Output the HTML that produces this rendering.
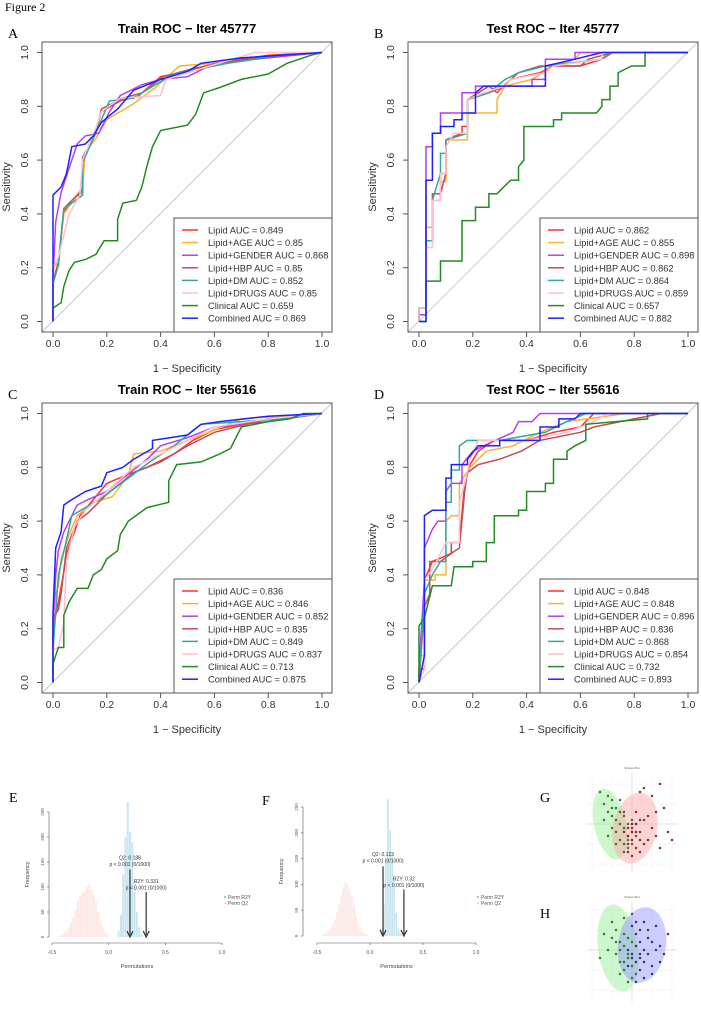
<!DOCTYPE html>
<html><head><meta charset="utf-8">
<style>
html,body{margin:0;padding:0;background:#fff;}
svg{display:block;font-family:"Liberation Sans",sans-serif;}
.serif{font-family:"Liberation Serif",serif;}
</style></head>
<body>
<svg id="fig" width="701" height="1015" viewBox="0 0 701 1015" xmlns="http://www.w3.org/2000/svg">
<text class="serif" x="5" y="11" font-size="12">Figure 2</text>
</svg>
<script>
// ===== ROC data (fpr, tpr pairs) =====
const seriesNames = ["Lipid","Lipid+AGE","Lipid+GENDER","Lipid+HBP","Lipid+DM","Lipid+DRUGS","Clinical","Combined"];
const seriesColors = ["#ff3030","#ffb030","#b040f0","#c05050","#30a8a8","#ffc0cb","#228b22","#2020ff"];
const aucA = [0.849,0.85,0.868,0.85,0.852,0.85,0.659,0.869];
const aucB = [0.862,0.855,0.898,0.862,0.864,0.859,0.657,0.882];
const aucC = [0.836,0.846,0.852,0.835,0.849,0.837,0.713,0.875];
const aucD = [0.848,0.848,0.896,0.836,0.868,0.854,0.732,0.893];

const rocA_lipid=[[0,0],[0,0.15],[0.02,0.22],[0.04,0.41],[0.08,0.46],[0.11,0.48],[0.11,0.6],[0.15,0.68],[0.18,0.78],[0.25,0.82],[0.32,0.84],[0.4,0.91],[0.5,0.93],[0.6,0.96],[0.8,0.99],[1,1]];
const rocA_age=[[0,0],[0,0.2],[0.02,0.22],[0.04,0.4],[0.09,0.47],[0.11,0.5],[0.12,0.63],[0.16,0.68],[0.2,0.75],[0.3,0.81],[0.38,0.87],[0.47,0.95],[0.6,0.96],[0.85,0.99],[1,1]];
const rocA_gender=[[0,0],[0,0.16],[0.01,0.37],[0.03,0.48],[0.07,0.6],[0.09,0.66],[0.12,0.69],[0.17,0.7],[0.21,0.78],[0.25,0.84],[0.33,0.88],[0.4,0.9],[0.5,0.91],[0.6,0.96],[0.8,0.98],[1,1]];
const rocA_hbp=[[0,0],[0,0.15],[0.02,0.21],[0.04,0.42],[0.08,0.46],[0.11,0.49],[0.11,0.61],[0.16,0.7],[0.18,0.79],[0.26,0.83],[0.33,0.85],[0.41,0.91],[0.52,0.94],[0.62,0.96],[0.82,0.99],[1,1]];
const rocA_dm=[[0,0],[0,0.14],[0.02,0.21],[0.03,0.32],[0.04,0.42],[0.07,0.44],[0.11,0.47],[0.11,0.59],[0.15,0.68],[0.21,0.82],[0.3,0.83],[0.38,0.88],[0.45,0.92],[0.55,0.94],[0.65,0.96],[0.85,0.99],[1,1]];
const rocA_drugs=[[0,0],[0,0.2],[0.02,0.24],[0.04,0.32],[0.06,0.4],[0.1,0.47],[0.11,0.6],[0.16,0.72],[0.18,0.78],[0.25,0.83],[0.4,0.84],[0.42,0.9],[0.55,0.94],[0.65,0.97],[0.75,1],[1,1]];
const rocA_clin=[[0,0],[0,0.05],[0.03,0.07],[0.04,0.13],[0.06,0.19],[0.08,0.22],[0.12,0.23],[0.16,0.25],[0.19,0.3],[0.24,0.3],[0.24,0.38],[0.26,0.44],[0.31,0.45],[0.33,0.5],[0.35,0.58],[0.37,0.65],[0.4,0.71],[0.5,0.73],[0.53,0.77],[0.56,0.85],[0.62,0.87],[0.7,0.9],[0.8,0.92],[0.87,0.96],[0.96,0.99],[1,1]];
const rocA_comb=[[0,0],[0,0.47],[0.03,0.5],[0.05,0.55],[0.07,0.65],[0.12,0.66],[0.15,0.69],[0.18,0.74],[0.24,0.79],[0.3,0.86],[0.4,0.9],[0.5,0.93],[0.55,0.96],[0.7,0.98],[1,1]];

const rocB_lipid=[[0,0],[0,0.05],[0.026,0.05],[0.026,0.3],[0.05,0.3],[0.05,0.45],[0.08,0.45],[0.08,0.55],[0.1,0.55],[0.1,0.675],[0.16,0.7],[0.16,0.725],[0.18,0.725],[0.18,0.825],[0.26,0.85],[0.32,0.875],[0.34,0.9],[0.45,0.925],[0.5,0.95],[0.6,0.95],[0.68,0.975],[0.72,1],[1,1]];
const rocB_age=[[0,0],[0,0.05],[0.026,0.05],[0.026,0.35],[0.05,0.35],[0.05,0.45],[0.08,0.45],[0.08,0.52],[0.1,0.52],[0.1,0.675],[0.18,0.675],[0.18,0.775],[0.29,0.775],[0.29,0.825],[0.32,0.875],[0.42,0.9],[0.5,0.95],[0.58,0.975],[0.6,1],[1,1]];
const rocB_gender=[[0,0],[0,0.025],[0.026,0.025],[0.026,0.65],[0.05,0.65],[0.05,0.7],[0.08,0.7],[0.08,0.775],[0.16,0.775],[0.16,0.85],[0.21,0.85],[0.21,0.875],[0.42,0.875],[0.42,0.9],[0.47,0.9],[0.47,0.975],[0.58,0.975],[0.58,1],[1,1]];
const rocB_hbp=[[0,0],[0,0.05],[0.026,0.05],[0.026,0.3],[0.05,0.3],[0.05,0.475],[0.08,0.475],[0.1,0.55],[0.1,0.675],[0.18,0.7],[0.18,0.825],[0.26,0.875],[0.29,0.85],[0.34,0.9],[0.37,0.925],[0.45,0.95],[0.6,0.95],[0.63,0.975],[0.72,1],[1,1]];
const rocB_dm=[[0,0],[0,0.05],[0.026,0.05],[0.026,0.3],[0.05,0.3],[0.05,0.45],[0.08,0.55],[0.08,0.625],[0.1,0.625],[0.1,0.675],[0.18,0.7],[0.18,0.825],[0.26,0.85],[0.32,0.9],[0.37,0.925],[0.47,0.95],[0.68,0.975],[0.71,1],[1,1]];
const rocB_drugs=[[0,0],[0,0.05],[0.026,0.05],[0.026,0.275],[0.05,0.275],[0.05,0.45],[0.08,0.45],[0.08,0.55],[0.1,0.55],[0.1,0.65],[0.13,0.7],[0.18,0.7],[0.18,0.825],[0.24,0.85],[0.32,0.875],[0.34,0.9],[0.47,0.925],[0.5,0.95],[0.68,0.975],[0.68,1],[1,1]];
const rocB_clin=[[0,0],[0.026,0],[0.026,0.15],[0.08,0.15],[0.08,0.225],[0.16,0.225],[0.16,0.375],[0.21,0.375],[0.21,0.425],[0.26,0.425],[0.26,0.475],[0.29,0.475],[0.34,0.525],[0.37,0.525],[0.37,0.575],[0.39,0.6],[0.39,0.725],[0.5,0.725],[0.5,0.75],[0.53,0.75],[0.53,0.775],[0.66,0.775],[0.68,0.8],[0.68,0.825],[0.71,0.825],[0.71,0.875],[0.74,0.875],[0.74,0.925],[0.79,0.95],[0.84,0.95],[0.84,1],[1,1]];
const rocB_comb=[[0,0],[0.026,0],[0.026,0.525],[0.05,0.525],[0.05,0.7],[0.08,0.7],[0.08,0.725],[0.13,0.725],[0.13,0.75],[0.16,0.75],[0.16,0.775],[0.21,0.775],[0.21,0.85],[0.24,0.875],[0.42,0.875],[0.47,0.875],[0.47,0.95],[0.58,0.975],[0.68,1],[1,1]];

const rocC_lipid=[[0,0],[0,0.2],[0.02,0.3],[0.04,0.41],[0.05,0.48],[0.08,0.56],[0.1,0.62],[0.15,0.68],[0.2,0.74],[0.27,0.77],[0.35,0.8],[0.45,0.85],[0.52,0.9],[0.6,0.94],[0.8,0.98],[1,1]];
const rocC_age=[[0,0],[0,0.25],[0.01,0.33],[0.02,0.36],[0.03,0.46],[0.06,0.55],[0.09,0.62],[0.15,0.67],[0.22,0.69],[0.28,0.77],[0.3,0.85],[0.4,0.86],[0.5,0.9],[0.58,0.93],[0.7,0.98],[1,1]];
const rocC_gender=[[0,0],[0,0.2],[0.01,0.4],[0.02,0.49],[0.04,0.56],[0.07,0.62],[0.09,0.66],[0.13,0.68],[0.2,0.71],[0.26,0.76],[0.35,0.83],[0.4,0.88],[0.5,0.91],[0.6,0.95],[0.8,0.97],[1,1]];
const rocC_hbp=[[0,0],[0,0.24],[0.02,0.27],[0.03,0.33],[0.05,0.5],[0.09,0.6],[0.13,0.63],[0.2,0.7],[0.3,0.78],[0.4,0.82],[0.5,0.88],[0.6,0.93],[0.8,0.98],[1,1]];
const rocC_dm=[[0,0],[0,0.12],[0.02,0.4],[0.05,0.53],[0.07,0.62],[0.12,0.65],[0.2,0.7],[0.28,0.76],[0.36,0.82],[0.45,0.88],[0.5,0.92],[0.55,0.96],[0.7,0.97],[0.85,0.98],[1,1]];
const rocC_drugs=[[0,0],[0,0.12],[0.02,0.13],[0.04,0.22],[0.05,0.45],[0.08,0.58],[0.12,0.64],[0.2,0.71],[0.3,0.8],[0.4,0.85],[0.5,0.9],[0.6,0.95],[0.8,0.98],[1,1]];
const rocC_clin=[[0,0],[0,0.07],[0.02,0.13],[0.04,0.13],[0.04,0.25],[0.06,0.3],[0.09,0.35],[0.13,0.35],[0.15,0.4],[0.18,0.42],[0.2,0.46],[0.24,0.49],[0.25,0.55],[0.28,0.6],[0.35,0.65],[0.43,0.67],[0.43,0.75],[0.46,0.81],[0.55,0.82],[0.62,0.85],[0.66,0.87],[0.7,0.95],[0.8,0.97],[0.88,0.98],[0.93,1],[1,1]];
const rocC_comb=[[0,0],[0,0.26],[0.01,0.5],[0.03,0.56],[0.04,0.66],[0.07,0.68],[0.12,0.71],[0.18,0.73],[0.2,0.78],[0.26,0.8],[0.3,0.83],[0.37,0.87],[0.37,0.9],[0.5,0.92],[0.55,0.96],[0.62,0.97],[0.8,0.99],[1,1]];

const rocD_lipid=[[0,0],[0,0.05],[0.02,0.05],[0.02,0.38],[0.05,0.45],[0.12,0.48],[0.12,0.52],[0.15,0.52],[0.17,0.74],[0.19,0.81],[0.22,0.86],[0.28,0.9],[0.4,0.9],[0.5,0.93],[0.6,0.95],[0.65,1],[1,1]];
const rocD_age=[[0,0],[0,0.1],[0.02,0.1],[0.02,0.38],[0.06,0.38],[0.06,0.4],[0.1,0.4],[0.1,0.6],[0.12,0.62],[0.15,0.62],[0.15,0.74],[0.19,0.8],[0.25,0.86],[0.35,0.88],[0.45,0.93],[0.55,0.97],[0.77,1],[1,1]];
const rocD_gender=[[0,0],[0,0.05],[0.02,0.38],[0.02,0.5],[0.05,0.57],[0.07,0.6],[0.1,0.6],[0.1,0.71],[0.12,0.74],[0.16,0.74],[0.16,0.81],[0.2,0.86],[0.24,0.88],[0.35,0.93],[0.37,0.97],[0.42,0.97],[0.45,1],[1,1]];
const rocD_hbp=[[0,0],[0.02,0.28],[0.04,0.33],[0.04,0.45],[0.08,0.45],[0.12,0.48],[0.15,0.5],[0.17,0.71],[0.18,0.78],[0.22,0.81],[0.3,0.83],[0.38,0.86],[0.45,0.9],[0.6,0.93],[0.65,0.95],[0.8,0.98],[0.9,1],[1,1]];
const rocD_dm=[[0,0],[0.02,0.33],[0.05,0.4],[0.08,0.45],[0.1,0.45],[0.1,0.67],[0.12,0.67],[0.12,0.79],[0.15,0.79],[0.15,0.88],[0.18,0.9],[0.3,0.9],[0.47,0.93],[0.55,0.97],[0.62,1],[1,1]];
const rocD_drugs=[[0,0],[0.02,0.05],[0.02,0.38],[0.05,0.42],[0.08,0.48],[0.1,0.52],[0.15,0.52],[0.15,0.67],[0.17,0.74],[0.19,0.83],[0.22,0.9],[0.4,0.9],[0.55,0.93],[0.65,0.97],[0.7,1],[1,1]];
const rocD_clin=[[0,0],[0,0.21],[0.02,0.24],[0.05,0.36],[0.12,0.36],[0.13,0.43],[0.2,0.43],[0.2,0.45],[0.25,0.45],[0.25,0.52],[0.28,0.52],[0.28,0.62],[0.37,0.62],[0.37,0.64],[0.4,0.64],[0.4,0.71],[0.47,0.71],[0.47,0.74],[0.5,0.74],[0.5,0.83],[0.55,0.83],[0.55,0.86],[0.58,0.88],[0.62,0.9],[0.62,0.96],[0.85,0.98],[0.85,1],[1,1]];
const rocD_comb=[[0,0],[0.02,0.1],[0.02,0.62],[0.05,0.64],[0.1,0.64],[0.1,0.76],[0.12,0.76],[0.12,0.81],[0.18,0.81],[0.18,0.83],[0.22,0.88],[0.3,0.88],[0.3,0.9],[0.45,0.9],[0.45,0.95],[0.52,0.95],[0.52,0.98],[0.58,0.98],[0.6,1],[1,1]];

const axisTicks = [0,0.2,0.4,0.6,0.8,1.0];
const axisTickLabels = ["0.0","0.2","0.4","0.6","0.8","1.0"];

// ===== Permutation histogram data =====
const binW = 0.02;
const eR2Start = 0.08;
const eR2Counts = [12,45,125,200,270,210,190,110,50,20,5];
const eQ2Start = -0.44;
const eQ2Counts = [2,4,8,12,18,28,40,55,72,82,88,92,100,105,95,85,70,50,35,20,10,4];
const fR2Start = 0.1;
const fR2Counts = [15,60,150,265,205,160,110,45,15,5];
const fQ2Start = -0.46;
const fQ2Counts = [2,3,6,10,15,22,32,45,60,80,95,105,100,90,78,60,40,25,15,8,4,2,1];
const eStats = {q2:0.188, r2y:0.331, q2Label:"Q2: 0.188", r2Label:"R2Y: 0.331"};
const fStats = {q2:0.123, r2y:0.32, q2Label:"Q2: 0.123", r2Label:"R2Y: 0.32"};
const histXTicks = [-0.5,0,0.5,1.0];
const histXLabels = ["-0.5","0.0","0.5","1.0"];
const histYTicks = [0,50,100,150,200,250];

// ===== Score plot data =====
const gGreen=[[-8,8],[-7,5],[-6,7],[-5,6],[-6,3],[-7,1],[-5,2],[-4,4],[-4,1],[-3,3],[-5,-1],[-4,-2],[-3,0],[-2,2],[-2,-1],[-3,-4],[-2,-5],[-1,0],[-1,-3],[0,1],[0,-2],[-1,-6],[1,-3],[-6,-3],[-3,6],[-2,-7],[0,-5],[1,0],[-4,-5],[-2,3],[-1,-4],[-5,4]];
const gRed=[[3,9],[5,7],[7,10],[2,8],[-1,-1],[0,-2],[1,0],[0,-4],[-1,-5],[2,-2],[1,-6],[3,1],[4,2],[5,-1],[6,3],[8,4],[9,-2],[10,-4],[4,-4],[2,-7],[0,-8],[-1,-3],[3,-5],[6,-3],[1,3],[-2,-2],[2,1],[0,0],[7,-6],[1,-2],[-1,-7],[2,-4],[0,-1]];
const hGreen=[[-8,-2],[-7,4],[-6,0],[-5,3],[-5,7],[-4,5],[-4,-1],[-3,2],[-3,-3],[-2,1],[-2,-5],[-1,3],[-1,-2],[0,-4],[-1,-8],[-3,-6],[-2,4],[-4,2],[0,9],[-2,8],[1,-6],[-3,0],[0,2],[-1,-1],[-2,-3],[0,-7]];
const hBlue=[[0,6],[1,7],[2,5],[3,7],[4,5],[5,2],[6,0],[7,1],[8,-1],[9,4],[7,-3],[5,-4],[4,-1],[3,0],[2,2],[1,-3],[0,-1],[2,-5],[3,-7],[1,-8],[0,-2],[-1,0],[2,-1],[4,3],[6,6],[1,1],[3,-3],[5,-6],[1,4],[-1,-4],[2,-2]];

const NS="http://www.w3.org/2000/svg";
const svg=document.getElementById('fig');
function mk(tag,attrs,parent,txt){const e=document.createElementNS(NS,tag);for(const k in attrs)e.setAttribute(k,attrs[k]);if(txt!==undefined)e.textContent=txt;(parent||svg).appendChild(e);return e;}

function rocPanel(ox,oy,title,letter,curves,aucs,name){
  const g=mk('g',{});
  
  
  const L=ox,T=oy,R=ox+290,B=oy+290;
  const sx=v=>ox+11+v*269, sy=v=>oy+279.5-v*269;
  const lt=mk('text',{x:ox-34,y:oy-4,'font-size':14,'class':'serif'},g,letter);
  
  
  const tt=mk('text',{x:(L+R)/2,y:oy-9,'font-size':13,'font-weight':'bold','text-anchor':'middle'},g,title);
  
  
  const dg=mk('line',{x1:L,y1:B,x2:R,y2:T,stroke:'#c8c8c8','stroke-width':1},g);
  
  
  curves.forEach((c,i)=>{
    const p=mk('polyline',{points:c.map(d=>sx(d[0]).toFixed(1)+','+sy(d[1]).toFixed(1)).join(' '),fill:'none',stroke:seriesColors[i],'stroke-width':1.5},g);
    
    
  });
  const bx=mk('rect',{x:L,y:T,width:290,height:290,fill:'none',stroke:'#555','stroke-width':1},g);
  
  
  axisTicks.forEach((t,i)=>{
    mk('line',{x1:sx(t),y1:B,x2:sx(t),y2:B+5,stroke:'#555'},g);
    const xl=mk('text',{x:sx(t),y:B+15,'font-size':10.5,'text-anchor':'middle',fill:'#333'},g,axisTickLabels[i]);
    
    
    mk('line',{x1:L,y1:sy(t),x2:L-5,y2:sy(t),stroke:'#555'},g);
    const yl=mk('text',{x:L-14,y:sy(t),'font-size':10.5,'text-anchor':'middle',fill:'#333',transform:`rotate(-90 ${L-14} ${sy(t)})`},g,axisTickLabels[i]);
    
    
  });
  const xt=mk('text',{x:(L+R)/2,y:B+40,'font-size':11,'text-anchor':'middle',fill:'#333'},g,'1 − Specificity');
  
  
  const yt=mk('text',{x:L-32,y:(T+B)/2,'font-size':11,'text-anchor':'middle',fill:'#333',transform:`rotate(-90 ${L-32} ${(T+B)/2})`},g,'Sensitivity');
  
  
  const lg=mk('g',{},g);
  
  
  mk('rect',{x:R-158,y:B-114,width:158,height:114,fill:'#fff',stroke:'#555'},lg);
  seriesNames.forEach((n,i)=>{
    const y=B-102+i*12.6;
    const le=mk('g',{},lg);
    
    
    mk('line',{x1:R-150,y1:y,x2:R-134,y2:y,stroke:seriesColors[i],'stroke-width':1.5},le);
    mk('text',{x:R-124,y:y+3.5,'font-size':9.3,fill:'#333'},le,n+' AUC = '+aucs[i]);
  });
}
rocPanel(42,42,'Train ROC − Iter 45777','A',[rocA_lipid,rocA_age,rocA_gender,rocA_hbp,rocA_dm,rocA_drugs,rocA_clin,rocA_comb],aucA,'train-roc-45777');
rocPanel(408,42,'Test ROC − Iter 45777','B',[rocB_lipid,rocB_age,rocB_gender,rocB_hbp,rocB_dm,rocB_drugs,rocB_clin,rocB_comb],aucB,'test-roc-45777');
rocPanel(42,403,'Train ROC − Iter 55616','C',[rocC_lipid,rocC_age,rocC_gender,rocC_hbp,rocC_dm,rocC_drugs,rocC_clin,rocC_comb],aucC,'train-roc-55616');
rocPanel(408,403,'Test ROC − Iter 55616','D',[rocD_lipid,rocD_age,rocD_gender,rocD_hbp,rocD_dm,rocD_drugs,rocD_clin,rocD_comb],aucD,'test-roc-55616');

function histPanel(o){
  const g=mk('g',{});
  
  
  const sx=v=>o.x0+(v+0.5)/1.5*(o.x1-o.x0);
  const sy=f=>o.y0-f/250*(o.y0-o.y250);
  const lt=mk('text',{x:o.lx,y:o.ly,'font-size':14,'class':'serif'},g,o.letter);
  
  
  o.q2c.forEach((c,i)=>{
    const b=mk('rect',{x:sx(o.q2s+i*binW),y:sy(c),width:sx(binW)-sx(0)-0.3,height:sy(0)-sy(c),fill:'#fde8e6'},g);
    
    
  });
  o.r2c.forEach((c,i)=>{
    const b=mk('rect',{x:sx(o.r2s+i*binW),y:sy(c),width:sx(binW)-sx(0)-0.3,height:sy(0)-sy(c),fill:'#c8e6f0'},g);
    
    
  });
  const st=o.stats;
  [[st.q2,135,st.q2Label,155],[st.r2y,90,st.r2Label,108]].forEach(a=>{
    const ar=mk('g',{},g);
    
    
    mk('line',{x1:sx(a[0]),y1:sy(a[1]),x2:sx(a[0]),y2:sy(0)-2,stroke:'#333','stroke-width':1.2},ar);
    mk('path',{d:`M${sx(a[0])-3},${sy(0)-6} L${sx(a[0])},${sy(0)} L${sx(a[0])+3},${sy(0)-6}`,fill:'none',stroke:'#333','stroke-width':1.2},ar);
    mk('text',{x:sx(a[0]),y:sy(a[3]),'font-size':5,'text-anchor':'middle',fill:'#333'},ar,a[2]);
    mk('text',{x:sx(a[0]),y:sy(a[3])+6.5,'font-size':5,'text-anchor':'middle',fill:'#333'},ar,'p < 0.001 (0/1000)');
  });
  mk('line',{x1:o.yx,y1:sy(0),x2:o.yx,y2:sy(250),stroke:'#555','stroke-width':0.6},g);
  histYTicks.forEach(t=>{
    mk('line',{x1:o.yx,y1:sy(t),x2:o.yx-2,y2:sy(t),stroke:'#555','stroke-width':0.6},g);
    const yl=mk('text',{x:o.yx-5,y:sy(t),'font-size':4.5,'text-anchor':'middle',fill:'#555',transform:`rotate(-90 ${o.yx-5} ${sy(t)})`},g,String(t));
    
    
  });
  mk('line',{x1:sx(-0.5),y1:o.ax,x2:sx(1),y2:o.ax,stroke:'#555','stroke-width':0.6},g);
  histXTicks.forEach((t,i)=>{
    mk('line',{x1:sx(t),y1:o.ax,x2:sx(t),y2:o.ax+2,stroke:'#555','stroke-width':0.6},g);
    const xl=mk('text',{x:sx(t),y:o.ax+11,'font-size':5,'text-anchor':'middle',fill:'#555'},g,histXLabels[i]);
    
    
  });
  const xt=mk('text',{x:(sx(-0.5)+sx(1))/2,y:o.ax+25,'font-size':5.5,'text-anchor':'middle',fill:'#444'},g,'Permutations');
  
  
  const fy=(sy(0)+sy(250))/2;
  const yt=mk('text',{x:o.yx-20,y:fy,'font-size':5.5,'text-anchor':'middle',fill:'#444',transform:`rotate(-90 ${o.yx-20} ${fy})`},g,'Frequency');
  
  
  const lg=mk('g',{},g);
  
  
  mk('rect',{x:o.legx,y:896,width:2,height:2,fill:'#8fd0e0'},lg);
  mk('text',{x:o.legx+4,y:899,'font-size':5,fill:'#555'},lg,'Perm R2Y');
  mk('rect',{x:o.legx,y:902,width:2,height:2,fill:'#fbd4d0'},lg);
  mk('text',{x:o.legx+4,y:905,'font-size':5,fill:'#555'},lg,'Perm Q2');
}
histPanel({name:'permutation-histogram-e',letter:'E',lx:9,ly:802,x0:52,x1:222,y0:937,y250:812,yx:49,ax:943,legx:224,q2c:eQ2Counts,q2s:eQ2Start,r2c:eR2Counts,r2s:eR2Start,stats:eStats});
histPanel({name:'permutation-histogram-f',letter:'F',lx:262,ly:805,x0:317,x1:476,y0:936,y250:807,yx:303,ax:943,legx:477,q2c:fQ2Counts,q2s:fQ2Start,r2c:fR2Counts,r2s:fR2Start,stats:fStats});

function scorePanel(o){
  const g=mk('g',{});
  
  
  const sx=v=>o.cx+v*4, sy=v=>o.cy-v*4;
  const lt=mk('text',{x:o.lx,y:o.ly,'font-size':14,'class':'serif'},g,o.letter);
  
  
  mk('text',{x:632,y:o.top-4,'font-size':3,'text-anchor':'middle',fill:'#555'},g,'Scores Plot');
  for(let v=-10;v<=10;v+=5){
    mk('line',{x1:sx(v),y1:o.top,x2:sx(v),y2:o.top+100,stroke:'#eee','stroke-width':0.5},g);
    mk('line',{x1:587,y1:sy(v),x2:677,y2:sy(v),stroke:'#eee','stroke-width':0.5},g);
  }
  mk('line',{x1:sx(0),y1:o.top,x2:sx(0),y2:o.top+100,stroke:'#ccc','stroke-width':0.5},g);
  mk('line',{x1:587,y1:sy(0),x2:677,y2:sy(0),stroke:'#ccc','stroke-width':0.5},g);
  o.ells.forEach(e=>{
    const el=mk('ellipse',{cx:sx(e[0]),cy:sy(e[1]),rx:e[2]*4,ry:e[3]*4,fill:e[4],'fill-opacity':0.45,transform:`rotate(${e[5]} ${sx(e[0])} ${sy(e[1])})`},g);
    
    
  });
  o.groups.forEach(gr=>{
    gr[0].forEach(p=>{
      const c=mk('circle',{cx:sx(p[0]),cy:sy(p[1]),r:1.1,fill:gr[1],stroke:'#333','stroke-width':0.3},g);
      
      
    });
  });
}
scorePanel({name:'scores-plot-g',letter:'G',lx:540,ly:802,cx:632,cy:824,top:773,
  ells:[[-5.5,0,4,9,'#90ee90',-12],[0.75,-1,5.5,9,'#ffa0a0',12]],groups:[[gGreen,'#2a9a2a'],[gRed,'#b02020']]});
scorePanel({name:'scores-plot-h',letter:'H',lx:540,ly:918,cx:632,cy:950,top:902,
  ells:[[-3.5,0.5,5,11,'#90ee90',-8],[2.5,1.25,6,9.5,'#9090ff',8]],groups:[[hGreen,'#2a9a2a'],[hBlue,'#2030a0']]});
</script>
</body></html>
